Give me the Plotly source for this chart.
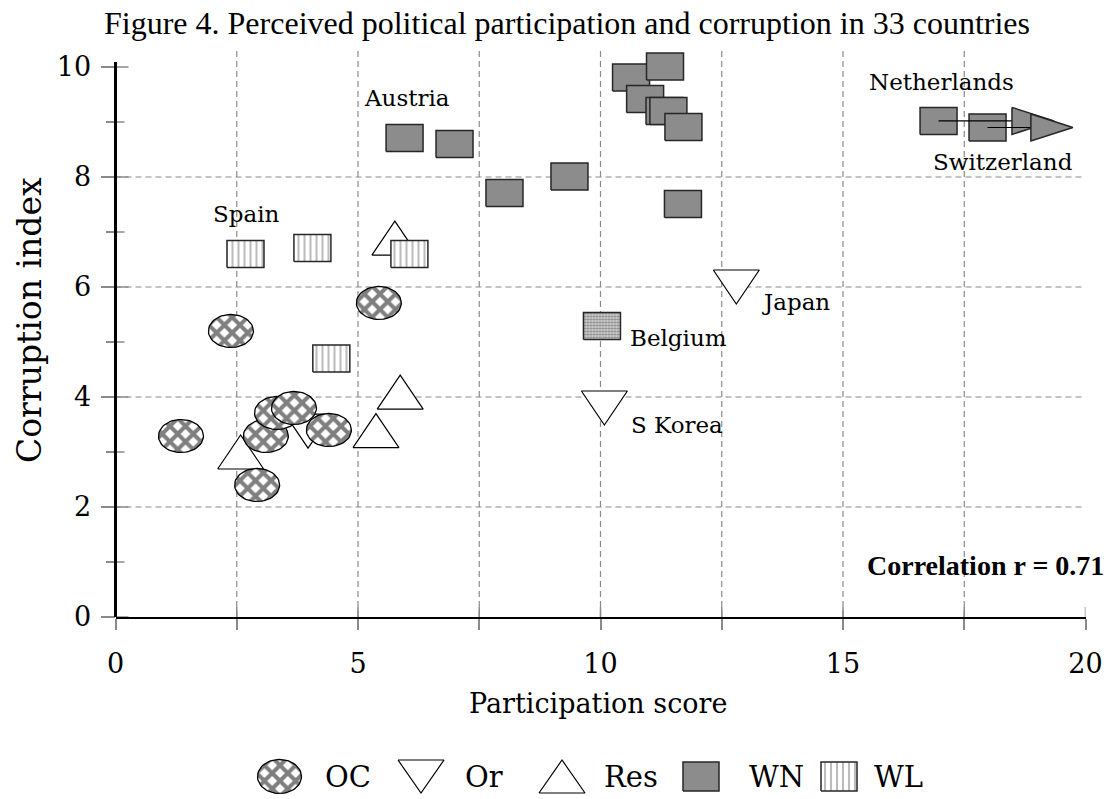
import numpy as np
import plotly.graph_objects as go

W, H = 1113, 799

# ---------------- data ----------------
oc_x = [1.35, 2.38, 2.92, 3.10, 3.33, 3.68, 4.40, 5.43]
oc_y = [3.29, 5.20, 2.40, 3.29, 3.71, 3.80, 3.40, 5.71]

or_x = [3.97, 10.08, 12.80]
or_y = [3.38, 3.80, 6.00]

res_x = [2.58, 5.37, 5.87, 5.76]
res_y = [3.00, 3.39, 4.09, 6.89]

belgium_x = [10.03]
belgium_y = [5.29]

wl_x = [2.68, 4.06, 6.06, 4.45]
wl_y = [6.60, 6.71, 6.60, 4.70]

wn_x = [5.96, 6.99, 8.02, 9.36, 11.70, 10.63, 11.33, 10.92, 11.32, 11.40, 11.71, 16.97, 17.98]
wn_y = [8.71, 8.60, 7.71, 8.01, 7.51, 9.81, 10.01, 9.42, 9.20, 9.20, 8.91, 9.02, 8.90]

# Netherlands and Switzerland arrows (start = their WN point, end = arrow tip)
arrow_start_x = [16.97, 17.98]
arrow_start_y = [9.02, 8.90]
arrow_tip_x = [19.35, 19.74]

label_text = ["Austria", "Spain", "Netherlands", "Switzerland", "Japan", "Belgium", "S Korea"]
label_x = [6.01, 2.70, 17.04, 18.29, 14.03, 11.61, 11.57]
label_y = [9.44, 7.33, 9.73, 8.28, 5.73, 5.07, 3.49]

legend_names = ["OC", "Or", "Res", "WN", "WL"]

x_tickvals = [0, 2.5, 5, 7.5, 10, 12.5, 15, 17.5, 20]
x_ticktext = ["0", "", "5", "", "10", "", "15", "", "20"]
y_tickvals = [0, 2, 4, 6, 8, 10]
y_minor = [1, 3, 5, 7, 9]
x_grid = [2.5, 5, 7.5, 10, 12.5, 15, 17.5]
y_grid = [2, 4, 6, 8]

# ---------------- geometry (window px) ----------------
X0_PX, X20_PX = 115.5, 1085.5
Y0_PX = 617.0
SX = (X20_PX - X0_PX) / 20.0
SY = 55.0
YMAX = 10.4
Y_TOP_PX = Y0_PX - YMAX * SY


def px(x):
    return x / W


def py(y):
    return 1 - y / H


SERIF = "DejaVu Serif"
TIMES = "Liberation Serif"

styles = {
    "OC": dict(kind="ellipse", w=45, h=33, fillcolor="white",
               fillpattern=dict(shape="x", fgcolor="black", bgcolor="white", size=11, solidity=0.6),
               line=dict(color="black", width=1.3)),
    "Or": dict(kind="tri_down", w=46, h=34, fillcolor="white", fillpattern=None,
               line=dict(color="black", width=1.2)),
    "Res": dict(kind="tri_up", w=46, h=34, fillcolor="white", fillpattern=None,
                line=dict(color="black", width=1.2)),
    "WN": dict(kind="rect", w=37, h=27, fillcolor="#8c8c8c", fillpattern=None,
               line=dict(color="#262626", width=1.5)),
    "WL": dict(kind="rect", w=37, h=27, fillcolor="white",
               fillpattern=dict(shape="|", fgcolor="#7a7a7a", bgcolor="white", size=6, solidity=0.35),
               line=dict(color="#262626", width=1.5)),
    "BE": dict(kind="rect", w=37, h=27, fillcolor="white",
               fillpattern=dict(shape=".", fgcolor="#333333", bgcolor="#dddddd", size=3, solidity=0.5),
               line=dict(color="#262626", width=1.5)),
}


def outline(kind, cx, cy, w, h, sx, sy):
    hw = w / 2.0 / sx
    hh = h / 2.0 / sy
    if kind == "ellipse":
        t = np.linspace(0, 2 * np.pi, 61)
        return list(cx + hw * np.cos(t)), list(cy + hh * np.sin(t))
    if kind == "rect":
        return ([cx - hw, cx + hw, cx + hw, cx - hw, cx - hw],
                [cy - hh, cy - hh, cy + hh, cy + hh, cy - hh])
    if kind == "tri_up":
        return [cx - hw, cx + hw, cx, cx - hw], [cy - hh, cy - hh, cy + hh, cy - hh]
    if kind == "tri_down":
        return [cx - hw, cx + hw, cx, cx - hw], [cy + hh, cy + hh, cy - hh, cy + hh]
    if kind == "tri_right":  # cx is the tip, w is the full length
        return [cx - 2 * hw, cx, cx - 2 * hw, cx - 2 * hw], [cy + hh, cy, cy - hh, cy + hh]


fig = go.Figure()


def add_mark(style, cx, cy, sx=SX, sy=SY, xa="x", ya="y", kind=None, w=None, h=None):
    st = styles[style]
    xs, ys = outline(kind or st["kind"], cx, cy, w or st["w"], h or st["h"], sx, sy)
    kw = dict(x=xs, y=ys, mode="lines", fill="toself", fillcolor=st["fillcolor"],
              line=st["line"], hoverinfo="skip", showlegend=False, xaxis=xa, yaxis=ya)
    if st["fillpattern"] is not None:
        kw["fillpattern"] = st["fillpattern"]
    fig.add_trace(go.Scatter(**kw))


# draw order: Or, Res, OC, Belgium, WL, WN
for x, y in zip(or_x, or_y):
    add_mark("Or", x, y)
for x, y in zip(res_x, res_y):
    add_mark("Res", x, y)
for x, y in zip(oc_x, oc_y):
    add_mark("OC", x, y)
for x, y in zip(belgium_x, belgium_y):
    add_mark("BE", x, y)
for x, y in zip(wl_x, wl_y):
    add_mark("WL", x, y)
for x, y in zip(wn_x, wn_y):
    add_mark("WN", x, y)

# arrows for Netherlands / Switzerland
for sx_, sy_, tx in zip(arrow_start_x, arrow_start_y, arrow_tip_x):
    fig.add_trace(go.Scatter(x=[sx_, tx - 30 / SX], y=[sy_, sy_], mode="lines",
                             line=dict(color="black", width=1.2), hoverinfo="skip",
                             showlegend=False))
    add_mark("WN", tx, sy_, kind="tri_right", w=42, h=27)

# ---------------- legend (custom, window-pixel subplot) ----------------
leg_sym_cx = [279.5, 421, 562, 701, 839]
leg_txt_x = [323, 463, 602, 747, 872]
leg_cy = 776.5
leg_kinds = {"OC": ("OC", 44, 34), "Or": ("Or", 46, 33), "Res": ("Res", 46, 33),
             "WN": ("WN", 36, 29), "WL": ("WL", 36, 29)}
for name, cx in zip(legend_names, leg_sym_cx):
    st, w, h = leg_kinds[name]
    add_mark(st, cx, leg_cy, sx=1.0, sy=-1.0, xa="x2", ya="y2", w=w, h=h)

annotations = []
for name, tx in zip(legend_names, leg_txt_x):
    annotations.append(dict(x=px(tx), y=py(leg_cy), xref="paper", yref="paper",
                            text=name, showarrow=False, xanchor="left", yanchor="middle",
                            font=dict(family=SERIF, size=29, color="black")))

# point labels
for t, x, y in zip(label_text, label_x, label_y):
    annotations.append(dict(x=x, y=y, xref="x", yref="y", text=t, showarrow=False,
                            xanchor="center", yanchor="middle",
                            font=dict(family=SERIF, size=23, color="black")))

# axis titles
annotations.append(dict(x=px(598), y=py(703), xref="paper", yref="paper",
                        text="Participation score", showarrow=False,
                        xanchor="center", yanchor="middle",
                        font=dict(family=SERIF, size=27, color="black")))
annotations.append(dict(x=px(29), y=py(320), xref="paper", yref="paper",
                        text="Corruption index", showarrow=False, textangle=-90,
                        xanchor="center", yanchor="middle",
                        font=dict(family=SERIF, size=33, color="black")))
# correlation
annotations.append(dict(x=px(1106), y=py(565), xref="paper", yref="paper",
                        text="<b>Correlation r = 0.71</b>", showarrow=False,
                        xanchor="right", yanchor="middle",
                        font=dict(family=TIMES, size=28, color="black")))

# ---------------- decorations: grid, axis line, inner tick parts ----------------
shapes = []
GRID = dict(color="#8a8a8a", width=1.2, dash="6px,4px")
for gx in x_grid:
    shapes.append(dict(type="line", xref="x", yref="y", x0=gx, x1=gx, y0=0, y1=10.35,
                       line=GRID, layer="below"))
for gy in y_grid:
    shapes.append(dict(type="line", xref="x", yref="y", x0=0, x1=20, y0=gy, y1=gy,
                       line=GRID, layer="below"))
# inner parts of y ticks (ticks cross the axis)
for v in y_tickvals + y_minor:
    ln = 13 if v in y_tickvals else 9
    shapes.append(dict(type="line", xref="paper", yref="y", x0=px(X0_PX), x1=px(X0_PX + ln),
                       y0=v, y1=v, line=dict(color="#8a8a8a", width=1.5), layer="below"))
# inner parts of x ticks
for v in x_tickvals:
    shapes.append(dict(type="line", xref="x", yref="paper", x0=v, x1=v,
                       y0=py(Y0_PX), y1=py(Y0_PX - 10),
                       line=dict(color="#8a8a8a", width=1.5), layer="below"))
# y axis line
shapes.append(dict(type="line", xref="paper", yref="y", x0=px(X0_PX), x1=px(X0_PX),
                   y0=0, y1=10.09, line=dict(color="black", width=3), layer="above"))

fig.update_layout(
    width=W, height=H,
    autosize=False,
    margin=dict(l=0, r=0, t=0, b=0, pad=0, autoexpand=False),
    paper_bgcolor="white", plot_bgcolor="rgba(0,0,0,0)",
    showlegend=False,
    title=dict(text="Figure 4. Perceived political participation and corruption in 33 countries",
               x=px(567), xanchor="center", y=py(23), yanchor="middle", yref="container",
               xref="container", automargin=False,
               font=dict(family=TIMES, size=32, color="black")),
    xaxis=dict(domain=[px(X0_PX), px(X20_PX)], range=[0, 20], anchor="y", automargin=False,
               tickmode="array", tickvals=x_tickvals, ticktext=x_ticktext,
               ticks="outside", ticklen=11, tickwidth=1.5, tickcolor="#8a8a8a",
               showline=True, linecolor="black", linewidth=2,
               showgrid=False, zeroline=False, fixedrange=True,
               ticklabelstandoff=11,
               tickfont=dict(family=SERIF, size=27, color="black")),
    yaxis=dict(domain=[py(Y0_PX), py(Y_TOP_PX)], range=[0, YMAX], anchor="x",
               automargin=False,
               tickmode="array", tickvals=y_tickvals,
               ticks="outside", ticklen=14, tickwidth=1.5, tickcolor="#8a8a8a",
               minor=dict(tickmode="array", tickvals=y_minor, ticks="outside", ticklen=9,
                          tickwidth=1.5, tickcolor="#8a8a8a", showgrid=False),
               showline=False, showgrid=False, zeroline=False, fixedrange=True,
               ticklabelstandoff=4,
               tickfont=dict(family=SERIF, size=27, color="black")),
    xaxis2=dict(domain=[0, 1], range=[0, W], anchor="y2", visible=False,
                fixedrange=True, automargin=False),
    yaxis2=dict(domain=[0, 0.12], range=[H, H - 0.12 * H], anchor="x2",
                visible=False, fixedrange=True, automargin=False),
    annotations=annotations,
    shapes=shapes,
)

# the page's default 8px body margin would shift the 1113x799 figure; remove it
fig.write_html("out.html", config={"displayModeBar": False, "displaylogo": False},
               post_script="document.body.style.margin='0px';")
